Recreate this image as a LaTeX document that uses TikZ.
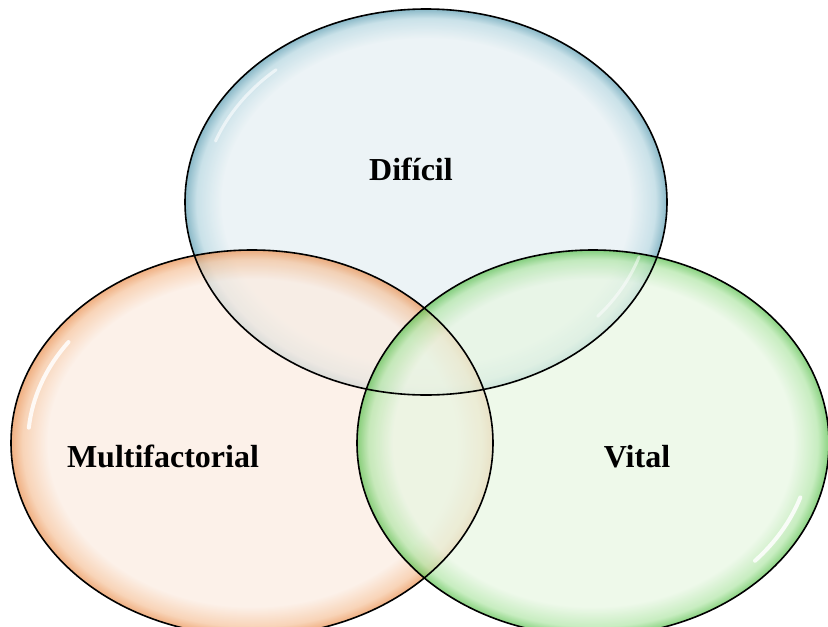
\documentclass[tikz,border=0pt]{standalone}
\usepackage{fontspec}
\setmainfont{Liberation Serif}
\usetikzlibrary{shapes.geometric}
\definecolor{bIn}{HTML}{E4EEF2}
\definecolor{bMid}{HTML}{B5D6E0}
\definecolor{bOut}{HTML}{5C9DB2}
\definecolor{oIn}{HTML}{FBEBE0}
\definecolor{oMid}{HTML}{F5C39C}
\definecolor{oOut}{HTML}{EA9050}
\definecolor{gIn}{HTML}{E7F6E2}
\definecolor{gMid}{HTML}{B2E6A8}
\definecolor{gOut}{HTML}{5CC150}
\pgfdeclareradialshading{rimblue}{\pgfpoint{0bp}{0bp}}{color(0bp)=(bIn); color(21.2bp)=(bIn); color(23.8bp)=(bMid); color(25bp)=(bOut); color(50bp)=(bOut)}
\pgfdeclareradialshading{rimorange}{\pgfpoint{0bp}{0bp}}{color(0bp)=(oIn); color(21.2bp)=(oIn); color(23.8bp)=(oMid); color(25bp)=(oOut); color(50bp)=(oOut)}
\pgfdeclareradialshading{rimgreen}{\pgfpoint{0bp}{0bp}}{color(0bp)=(gIn); color(21.2bp)=(gIn); color(23.8bp)=(gMid); color(25bp)=(gOut); color(50bp)=(gOut)}
\begin{document}
\begin{tikzpicture}[x=1pt,y=-1pt,
  bubble/.style={ellipse, fill opacity=0.72, inner sep=0pt},
  rim/.style={draw=black, line width=1.6pt},
  label/.style={font=\bfseries\fontsize{32}{36}\selectfont, anchor=base, inner sep=0pt},
  shine/.style={draw=white, line width=4pt, line cap=round, opacity=0.85}]
\useasboundingbox (0,0) rectangle (828,627);
\node[bubble, shading=rimblue, minimum width=482pt, minimum height=386pt] (top) at (426,202) {};
\node[bubble, shading=rimorange, minimum width=482pt, minimum height=386pt] (left) at (252,443) {};
\node[bubble, shading=rimgreen, minimum width=472pt, minimum height=386pt] (right) at (593,443) {};
% highlights
\draw[shine] (left.center) ++(185:224 and 176) arc[start angle=185, end angle=215, x radius=224, y radius=176];
\draw[shine] (right.center) ++(18:218 and 176) arc[start angle=18, end angle=42, x radius=218, y radius=176];
\draw[shine, opacity=0.6, line width=3pt] (top.center) ++(200:224 and 178) arc[start angle=200, end angle=228, x radius=224, y radius=178];
\draw[shine, opacity=0.5, line width=3pt] (top.center) ++(18:224 and 178) arc[start angle=18, end angle=40, x radius=224, y radius=178];
% outlines on top
\draw[rim] (top.center) ellipse [x radius=241, y radius=193];
\draw[rim] (left.center) ellipse [x radius=241, y radius=193];
\draw[rim] (right.center) ellipse [x radius=236, y radius=193];
\node[label] (t1) at (411,180) {Difícil};
\node[label] (t2) at (163,467) {Multifactorial};
\node[label] (t3) at (637,467) {Vital};
\end{tikzpicture}
\end{document}
